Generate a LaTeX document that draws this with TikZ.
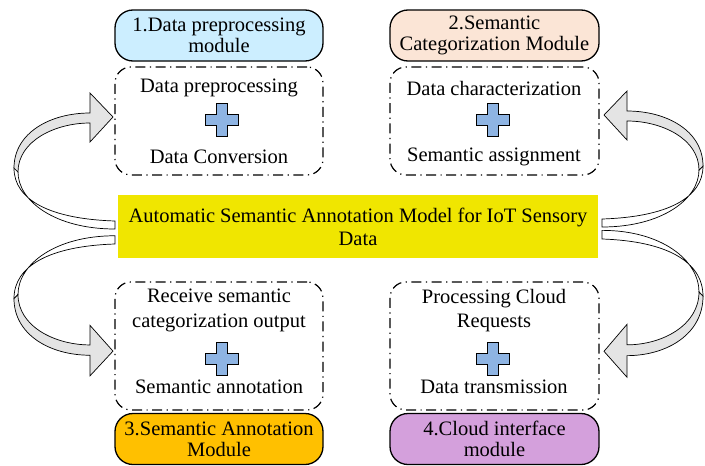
\documentclass[tikz,border=0pt]{standalone}
\usepackage{fontspec}
\setmainfont{Liberation Serif}
\definecolor{mA}{RGB}{204,238,255}
\definecolor{mB}{RGB}{251,229,214}
\definecolor{mC}{RGB}{255,192,0}
\definecolor{mD}{RGB}{212,160,220}
\definecolor{ybox}{RGB}{240,230,0}
\definecolor{plusblue}{RGB}{142,180,227}
\definecolor{arrgray}{RGB}{228,228,228}
\tikzset{
  module/.style={draw, line width=1.3pt, rounded corners=18pt, minimum width=208pt, minimum height=51pt, align=center, inner sep=0pt, font=\fontsize{20.5}{21}\selectfont},
  dashbox/.style={draw, line width=1.2pt, dash pattern=on 10pt off 4.5pt on 1.2pt off 4.5pt, rounded corners=16pt, minimum width=208pt, inner sep=0pt},
  txt/.style={align=center, inner sep=0pt, font=\fontsize{20.5}{24.5}\selectfont},
  plussign/.pic={\draw[line width=1.3pt, fill=plusblue] (-5.5,-16.5) -- (5.5,-16.5) -- (5.5,-5.5) -- (16.5,-5.5) -- (16.5,5.5) -- (5.5,5.5) -- (5.5,16.5) -- (-5.5,16.5) -- (-5.5,5.5) -- (-16.5,5.5) -- (-16.5,-5.5) -- (-5.5,-5.5) -- cycle;},
  curvarrow/.pic={
    \draw[line width=0.7pt, fill=white] (0,0) .. controls (-65,-2) and (-101,-21) .. (-101,-53) -- (-97,-49) .. controls (-97,-20) and (-60,8) .. (0,8) -- cycle;
    \draw[line width=0.7pt, fill=arrgray] (-101,-53) .. controls (-101,-88) and (-65,-108) .. (-25,-108) -- (-25,-128) -- (-2,-104) -- (-25,-79) -- (-25,-98) .. controls (-60,-98) and (-97,-80) .. (-97,-49) -- cycle;
  }
}
\begin{document}
\begin{tikzpicture}[x=1pt,y=-1pt]
\useasboundingbox (0,0) rectangle (705,466);
% arrows
\pic at (115,221) {curvarrow};
\pic[yscale=-1.03] at (115,244) {curvarrow};
\pic[xscale=-1] at (602,219) {curvarrow};
\pic[xscale=-1,yscale=-1.08] at (602,239) {curvarrow};
% modules
\node[module, fill=mA] (m1) at (219,35.5) {1.Data preprocessing\\module};
\node[module, fill=mB, minimum width=209pt] (m2) at (494.5,35.5) {2.Semantic\\Categorization Module};
\node[module, fill=mC] (m3) at (219,439) {3.Semantic Annotation\\Module};
\node[module, fill=mD, minimum width=209pt] (m4) at (494.5,439) {4.Cloud interface\\module};
% dashed boxes
\node[dashbox, minimum height=108pt] (d1) at (219,121) {};
\node[dashbox, minimum height=108pt, minimum width=209pt] (d2) at (494.5,121) {};
\node[dashbox, minimum height=128pt] (d3) at (219,346) {};
\node[dashbox, minimum height=128pt, minimum width=209pt] (d4) at (494.5,346) {};
% central
\node[fill=ybox, minimum width=480pt, minimum height=63pt, align=center, inner sep=0pt, font=\fontsize{20.5}{23}\selectfont] (y) at (358,226.5) {Automatic Semantic Annotation Model for IoT Sensory\\Data};
% texts
\node[txt] (t1a) at (219,88) {Data preprocessing};
\node[txt] (t1b) at (219,157) {Data Conversion};
\pic at (222,120) {plussign};
\node[txt] (t2a) at (494,88) {Data characterization};
\node[txt] (t2b) at (494,157) {Semantic assignment};
\pic at (493,120) {plussign};
\node[txt] (t3a) at (219,310.5) {Receive semantic\\categorization output};
\node[txt] (t3b) at (219,387) {Semantic annotation};
\pic at (222,359) {plussign};
\node[txt] (t4a) at (494,310.5) {Processing Cloud\\Requests};
\node[txt] (t4b) at (494,387) {Data transmission};
\pic at (493,359) {plussign};
\end{tikzpicture}
\end{document}
